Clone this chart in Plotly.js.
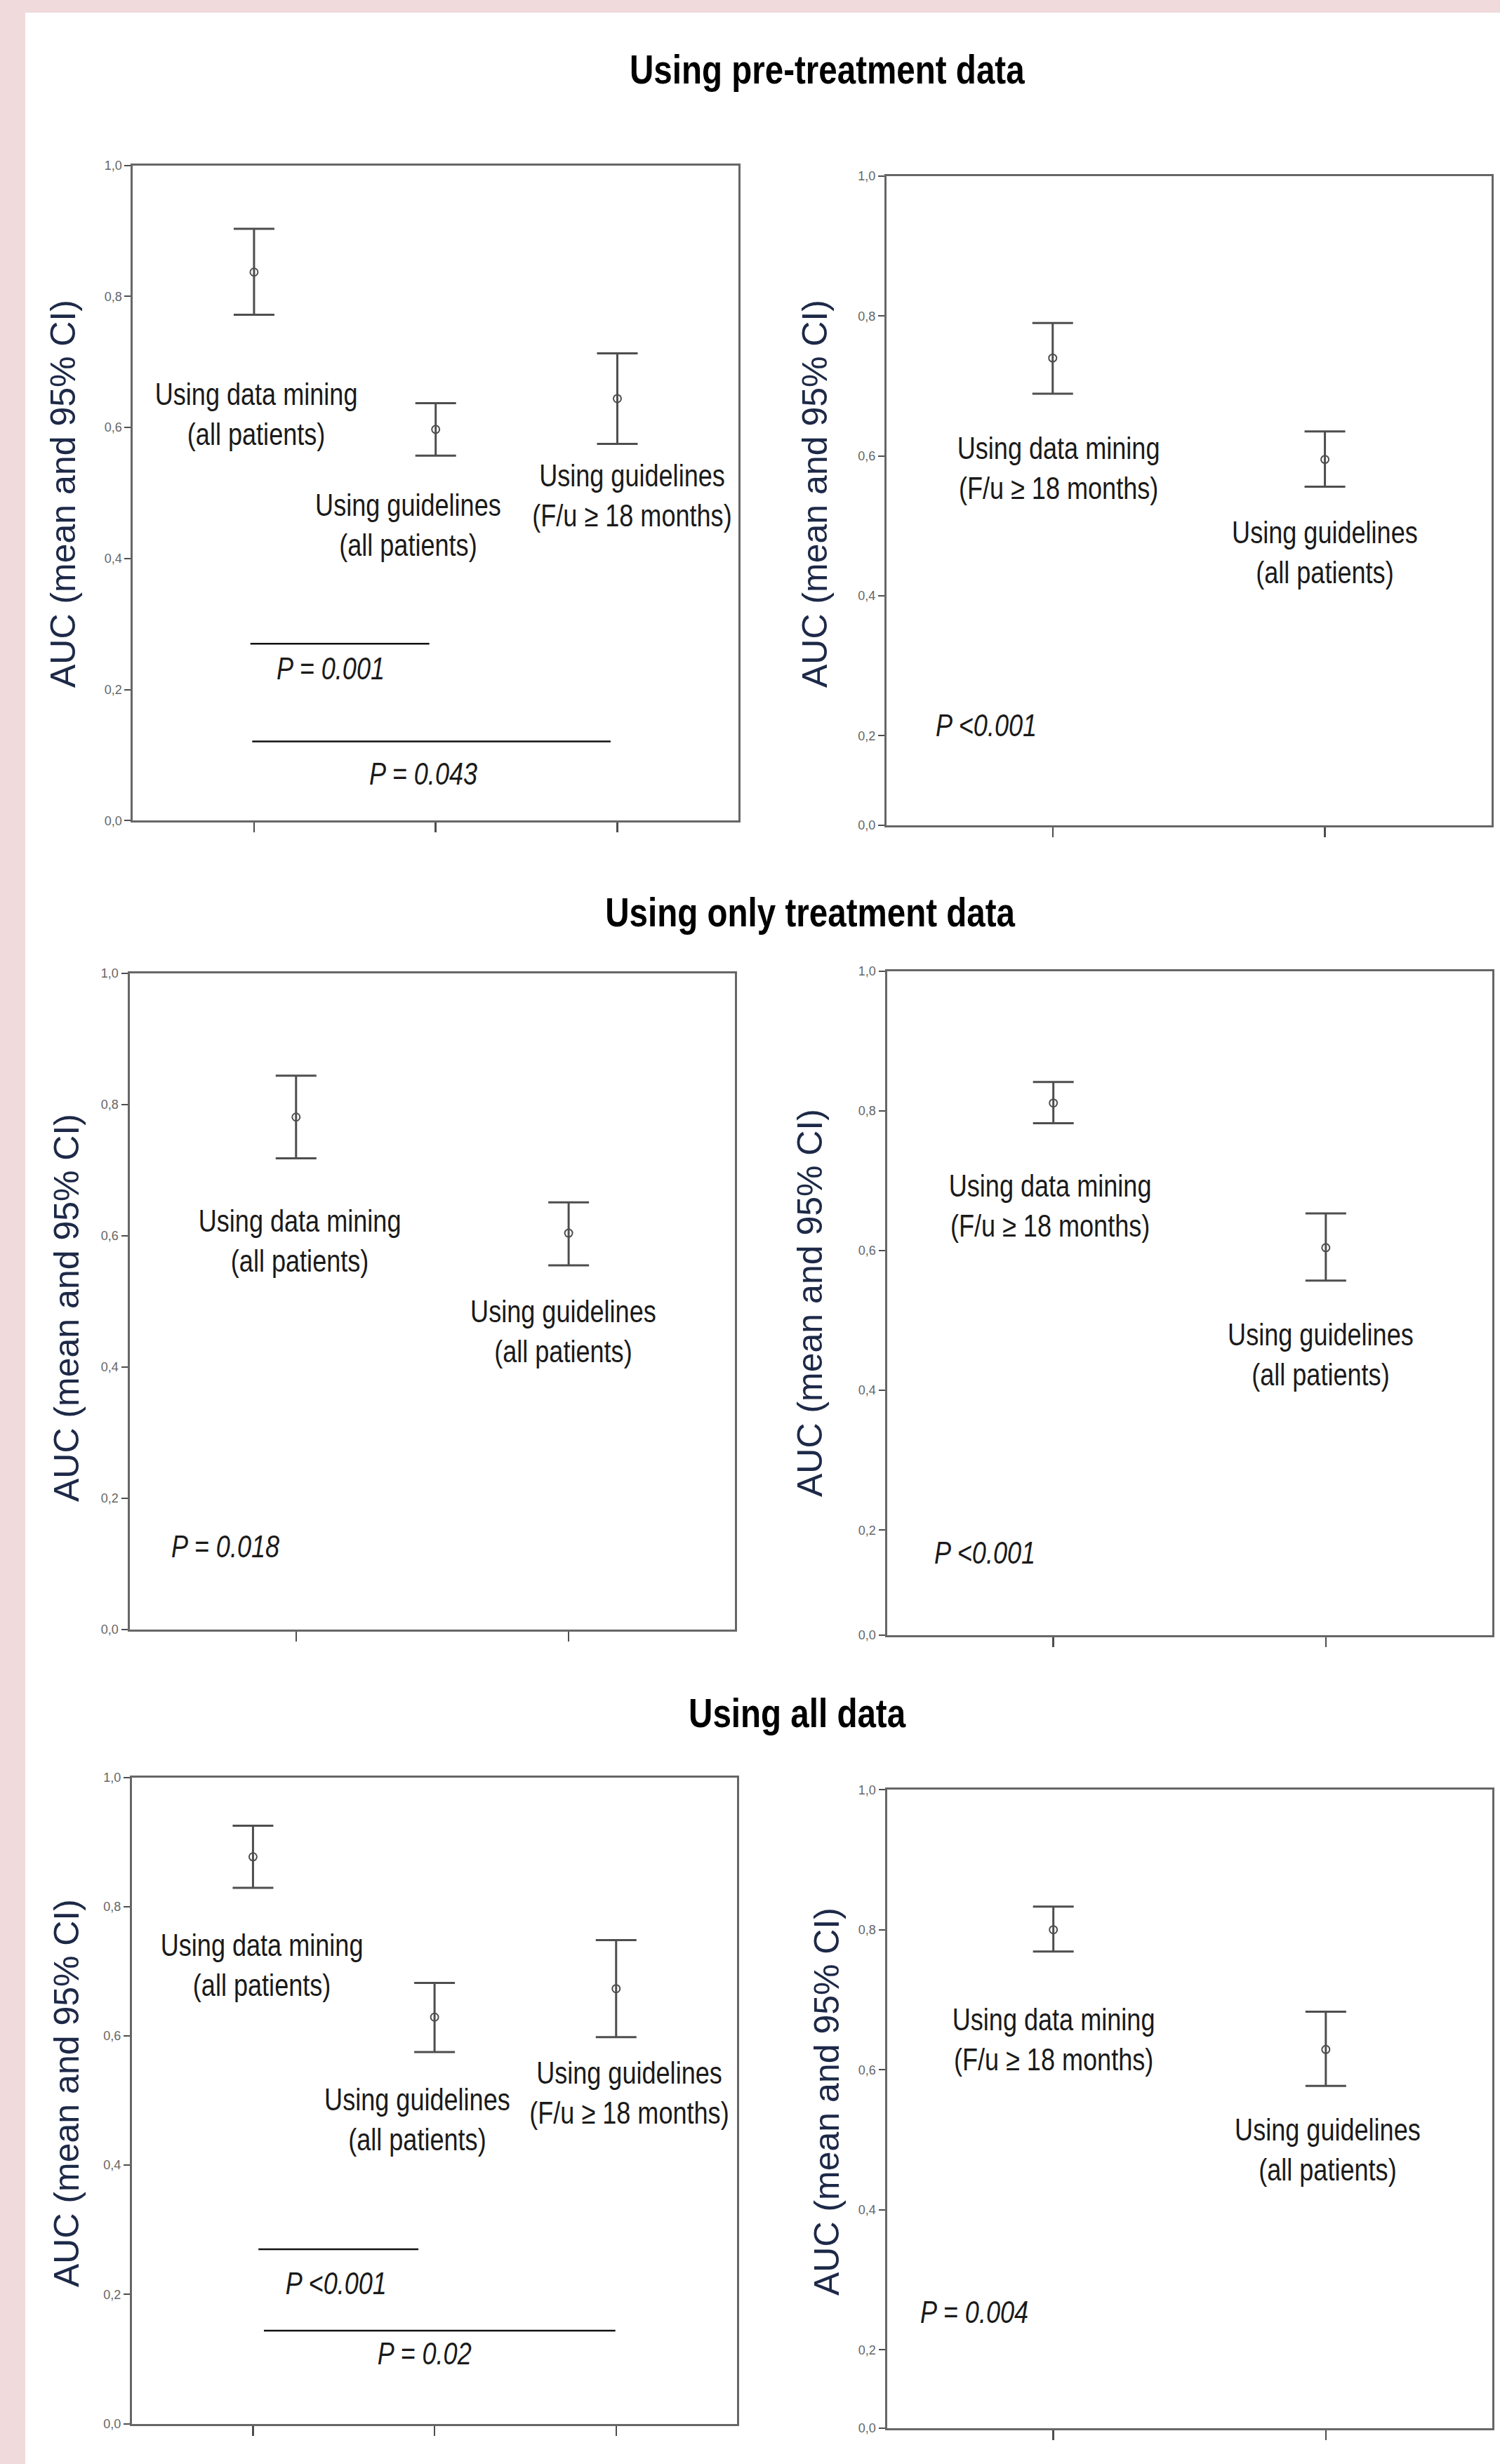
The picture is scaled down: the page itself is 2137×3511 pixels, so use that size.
<!DOCTYPE html>
<html><head><meta charset="utf-8">
<script src="https://cdn.plot.ly/plotly-3.0.1.min.js"></script>
<style>html,body{margin:0;padding:0;background:#F0DADB;}</style>
</head><body>
<div id="chart" style="width:2137px;height:3511px;"></div>
<script>
// ---------------- DATA ----------------
const sectionTitles = ['Using pre-treatment data', 'Using only treatment data', 'Using all data'];
const yAxisTitle = 'AUC (mean and 95% CI)';

const catsThreeAll = ['Using data mining<br>(all patients)', 'Using guidelines<br>(all patients)', 'Using guidelines<br>(F/u ≥ 18 months)'];
const catsTwoAll   = ['Using data mining<br>(all patients)', 'Using guidelines<br>(all patients)'];
const catsTwoFu    = ['Using data mining<br>(F/u ≥ 18 months)', 'Using guidelines<br>(all patients)'];

// Pre-treatment data
const preAllMean  = [0.837, 0.597, 0.644];
const preAllUpper = [0.903, 0.637, 0.713];
const preAllLower = [0.772, 0.557, 0.575];
const preFuMean   = [0.740, 0.595];
const preFuUpper  = [0.790, 0.635];
const preFuLower  = [0.689, 0.556];

// Only treatment data
const treatAllMean  = [0.781, 0.604];
const treatAllUpper = [0.844, 0.651];
const treatAllLower = [0.718, 0.555];
const treatFuMean   = [0.811, 0.604];
const treatFuUpper  = [0.841, 0.653];
const treatFuLower  = [0.782, 0.557];

// All data
const allAllMean  = [0.877, 0.629, 0.673];
const allAllUpper = [0.925, 0.682, 0.748];
const allAllLower = [0.829, 0.575, 0.598];
const allFuMean   = [0.800, 0.629];
const allFuUpper  = [0.833, 0.683];
const allFuLower  = [0.769, 0.577];

// P values
const pPreAll   = ['P = 0.001', 'P = 0.043'];
const pPreFu    = ['P <0.001'];
const pTreatAll = ['P = 0.018'];
const pTreatFu  = ['P <0.001'];
const pAllAll   = ['P <0.001', 'P = 0.02'];
const pAllFu    = ['P = 0.004'];

const yTickText = ['0,0', '0,2', '0,4', '0,6', '0,8', '1,0'];
const yTickVals = [0, 0.2, 0.4, 0.6, 0.8, 1.0];

// ---------------- LAYOUT HELPERS ----------------
const W = 2137, H = 3511;
const fx = x => x / W;
const fy = y => 1 - y / H;

const REG = '"Liberation Sans", Arial, sans-serif';
const GRAY = '#4e4e4e';
const NARROW_SCALE = 0.82;

const panels = [
  { cats: catsThreeAll, mean: preAllMean, up: preAllUpper, lo: preAllLower,
    box: [189.4, 1052, 235.5, 1169.4], xr: [-2/3, 8/3], yMin: 0,
    labels: [[0.01, 0.62], [0.85, 0.451], [2.08, 0.496]],
    ptext: pPreAll, ppos: [[0.42, 0.232, 'center'], [0.93, 0.072, 'center']],
    lines: [[-0.02, 0.965, 0.270], [-0.01, 1.963, 0.121]],
    ytitle: [90, 704] },
  { cats: catsTwoFu, mean: preFuMean, up: preFuUpper, lo: preFuLower,
    box: [1262.8, 2124.5, 251, 1176], xr: [-0.611, 1.611], yMin: 0.072,
    labels: [[0.02, 0.583], [1.0, 0.462]],
    ptext: pPreFu, ppos: [[-0.436, 0.215, 'left']],
    lines: [], ytitle: [1161, 704] },
  { cats: catsTwoAll, mean: treatAllMean, up: treatAllUpper, lo: treatAllLower,
    box: [184.5, 1047.4, 1387.1, 2321.5], xr: [-0.611, 1.611], yMin: 0,
    labels: [[0.013, 0.592], [0.98, 0.454]],
    ptext: pTreatAll, ppos: [[-0.463, 0.126, 'left']],
    lines: [], ytitle: [95, 1864] },
  { cats: catsTwoFu, mean: treatFuMean, up: treatFuUpper, lo: treatFuLower,
    box: [1263.5, 2126, 1383.5, 2329.6], xr: [-0.611, 1.611], yMin: 0.05,
    labels: [[-0.012, 0.664], [0.982, 0.451]],
    ptext: pTreatFu, ppos: [[-0.441, 0.168, 'left']],
    lines: [], ytitle: [1154, 1857] },
  { cats: catsThreeAll, mean: allAllMean, up: allAllUpper, lo: allAllLower,
    box: [188, 1050.2, 2532.5, 3453.6], xr: [-2/3, 8/3], yMin: 0,
    labels: [[0.05, 0.710], [0.906, 0.471], [2.072, 0.512]],
    ptext: pAllAll, ppos: [[0.458, 0.217, 'center'], [0.944, 0.109, 'center']],
    lines: [[0.03, 0.911, 0.270], [0.06, 1.996, 0.144]],
    ytitle: [95, 2983] },
  { cats: catsTwoFu, mean: allFuMean, up: allFuUpper, lo: allFuLower,
    box: [1263.5, 2126, 2550.2, 3460], xr: [-0.611, 1.611], yMin: 0.088,
    labels: [[0.0, 0.643], [1.006, 0.486]],
    ptext: pAllFu, ppos: [[-0.495, 0.254, 'left']],
    lines: [], ytitle: [1178, 2995] }
];

const titlePos = [[1178, 98], [1154, 1299], [1136, 2440]];

const traces = [];
const annotations = [];
const narrowList = []; // [annotation index, origin]
const shapes = [
  { type: 'rect', xref: 'paper', yref: 'paper', x0: fx(36), x1: 1, y0: 0, y1: fy(18),
    fillcolor: '#ffffff', line: { width: 0 }, layer: 'below' }
];
const layout = {
  width: W, height: H,
  margin: { l: 0, r: 0, t: 0, b: 0 },
  paper_bgcolor: '#F0DADB',
  plot_bgcolor: '#ffffff',
  showlegend: false,
  font: { family: REG, color: '#222' }
};

function addNarrow(ann, origin) {
  narrowList.push([annotations.length, origin]);
  annotations.push(ann);
}

panels.forEach((p, i) => {
  const n = i + 1;
  const xa = 'x' + (n === 1 ? '' : n), ya = 'y' + (n === 1 ? '' : n);
  const xk = 'xaxis' + (n === 1 ? '' : n), yk = 'yaxis' + (n === 1 ? '' : n);

  traces.push({
    type: 'scatter', mode: 'markers', xaxis: xa, yaxis: ya,
    x: p.cats, y: p.mean,
    error_y: { type: 'data', symmetric: false,
      array: p.up.map((u, k) => u - p.mean[k]),
      arrayminus: p.mean.map((m, k) => m - p.lo[k]),
      color: GRAY, thickness: 3, width: 29 },
    marker: { symbol: 'circle-open', size: 11, color: GRAY, line: { width: 2, color: GRAY } },
    hoverinfo: 'skip'
  });

  const tv = yTickVals.slice(); tv[0] = p.yMin;
  layout[xk] = {
    domain: [fx(p.box[0]), fx(p.box[1])], anchor: ya,
    type: 'category', categoryorder: 'array', categoryarray: p.cats,
    range: p.xr, showticklabels: false, ticks: 'outside', ticklen: 14, tickwidth: 2.5, tickcolor: GRAY,
    showline: true, linecolor: '#666', linewidth: 3, mirror: true,
    showgrid: false, zeroline: false, fixedrange: true
  };
  layout[yk] = {
    domain: [fy(p.box[3]), fy(p.box[2])], anchor: xa,
    range: [p.yMin, 1], tickmode: 'array', tickvals: tv, ticktext: yTickText,
    ticks: 'outside', ticklen: 9, tickwidth: 2, tickcolor: GRAY,
    tickfont: { family: REG, size: 18, color: '#666' },
    showline: true, linecolor: '#666', linewidth: 3, mirror: true,
    showgrid: false, zeroline: false, fixedrange: true
  };

  p.labels.forEach((pos, k) => {
    addNarrow({ xref: xa, yref: ya, x: pos[0], y: pos[1], text: p.cats[k],
      showarrow: false, xanchor: 'center', yanchor: 'middle', align: 'center',
      font: { family: REG, size: 44, color: '#1a1a1a' } }, 'center center');
  });
  p.ptext.forEach((t, k) => {
    const pp = p.ppos[k];
    addNarrow({ xref: xa, yref: ya, x: pp[0], y: pp[1], text: '<i>' + t + '</i>',
      showarrow: false, xanchor: pp[2], yanchor: 'middle',
      font: { family: REG, size: 44, color: '#1a1a1a' } }, pp[2] === 'left' ? 'left center' : 'center center');
  });
  p.lines.forEach(l => {
    shapes.push({ type: 'line', xref: xa, yref: ya, x0: l[0], x1: l[1], y0: l[2], y1: l[2],
      line: { color: '#111', width: 2.5 } });
  });
  annotations.push({ xref: 'paper', yref: 'paper', x: fx(p.ytitle[0]), y: fy(p.ytitle[1]),
    text: yAxisTitle, textangle: -90, showarrow: false, xanchor: 'center', yanchor: 'middle',
    font: { family: REG, size: 50, color: '#1d2947' } });
});

sectionTitles.forEach((t, k) => {
  addNarrow({ xref: 'paper', yref: 'paper', x: fx(titlePos[k][0]), y: fy(titlePos[k][1]),
    text: '<b>' + t + '</b>', showarrow: false, xanchor: 'center', yanchor: 'middle',
    font: { family: REG, size: 58, color: '#000' } }, 'center center');
});

layout.annotations = annotations;
layout.shapes = shapes;

Plotly.newPlot('chart', traces, layout, { displayModeBar: false, staticPlot: true }).then(gd => {
  narrowList.forEach(([idx, origin]) => {
    const t = gd.querySelector('g.annotation[data-index="' + idx + '"] text.annotation-text');
    if (t) {
      t.style.transformBox = 'fill-box';
      t.style.transformOrigin = origin;
      t.style.transform = 'scaleX(' + NARROW_SCALE + ')';
    }
  });
});
</script>
</body></html>
